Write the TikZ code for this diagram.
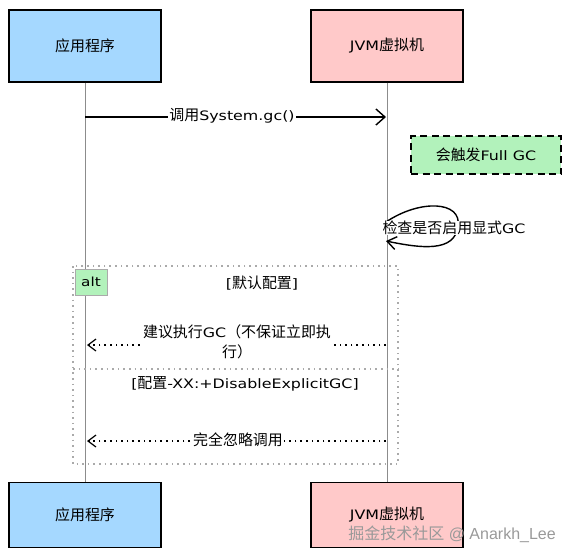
\documentclass[tikz,border=0pt]{standalone}
\usepackage{fontspec}
\setmainfont[FakeStretch=1.22]{DejaVu Sans}
\newfontfamily\cjk[Scale=1.15]{Noto Sans CJK SC}
\newfontfamily\wmfont{Liberation Sans}
\newfontfamily\wmcjk{Noto Sans CJK SC}
\usetikzlibrary{arrows.meta}
\definecolor{appblue}{HTML}{A5D8FF}
\definecolor{jvmpink}{HTML}{FFC9C9}
\definecolor{notegreen}{HTML}{B2F2BB}
\definecolor{framegrey}{HTML}{AAAAAA}
\tikzset{
  actor/.style={draw=black, line width=1.4pt, minimum width=152pt, minimum height=72pt, font=\fontsize{13}{15}\selectfont, inner sep=0pt},
  lifeline/.style={draw=black!45, line width=0.6pt},
  msg/.style={line width=1.4pt, -{Straight Barb[length=9pt,width=16pt,line width=1.4pt]}},
  reply/.style={line width=1.5pt, dash pattern=on 1.6pt off 4pt, -{Straight Barb[length=8pt,width=12pt,line width=1.2pt]}},
  lbl/.style={fill=white, inner sep=1pt, font=\fontsize{13}{20}\selectfont},
  frame/.style={draw=framegrey, line width=1.2pt, dash pattern=on 1.6pt off 4pt},
  guard/.style={font=\fontsize{13}{15}\selectfont, inner sep=1pt},
}
\begin{document}
\begin{tikzpicture}[x=1pt,y=-1pt]
\useasboundingbox (0,0) rectangle (571,558);
% actors
\node[actor, fill=appblue] (apptop) at (85,46) {\cjk 应用程序};
\node[actor, fill=jvmpink] (jvmtop) at (387,46) {JVM{\cjk 虚拟机}};
\node[actor, fill=appblue, minimum height=65pt] (appbot) at (85,515) {\cjk 应用程序};
\node[actor, fill=jvmpink, minimum height=65pt] (jvmbot) at (387,515) {JVM{\cjk 虚拟机}};
% lifelines
\draw[lifeline] (apptop.south) -- (appbot.north);
\draw[lifeline] (jvmtop.south) -- (jvmbot.north);
% message 1
\coordinate (m1s) at (85,117);
\coordinate (m1e) at (386,117);
\draw[msg] (m1s) -- (m1e);
\node[lbl] (m1l) at (232,116) {{\cjk 调用}System.gc()};
% note
\node[draw=black, line width=1.6pt, dash pattern=on 7pt off 4.5pt, fill=notegreen, minimum width=150pt, minimum height=38pt, font=\fontsize{13}{15}\selectfont] (note) at (486,155) {{\cjk 会触发}Full GC};
% self loop
\coordinate (s1) at (386,222);
\coordinate (s2) at (386,241);
\draw[line width=1.4pt, -{Straight Barb[length=9pt,width=13pt,line width=1.4pt]}] (s1) .. controls (420,199) and (462,201) .. (458,226) .. controls (455,253) and (420,248) .. (s2);
\node[lbl, inner sep=0pt] (selfl) at (454,228) {{\cjk 检查是否启用显式}GC};
% alt frame
\coordinate (fa) at (73,266);
\coordinate (fb) at (398,464);
\draw[frame] (fa) rectangle (fb);
\coordinate (dl) at (73,369);
\coordinate (dr) at (398,369);
\draw[frame] (dl) -- (dr);
\node[draw=framegrey, line width=1pt, fill=notegreen, minimum width=32pt, minimum height=26pt, font=\fontsize{12.5}{12}\selectfont, inner sep=0pt] (alt) at (91,282) {alt};
\node[guard] (g1) at (262,283) {[{\cjk 默认配置}]};
\node[guard] (g2) at (245,384) {[{\cjk 配置}-XX:+DisableExplicitGC]};
% message 2
\coordinate (m2s) at (386,345);
\coordinate (m2e) at (87,345);
\draw[reply] (m2s) -- (m2e);
\node[lbl, align=center] (m2l) at (237,342) {{\cjk 建议执行}GC{\cjk （不保证立即执}\\{\cjk 行）}};
% message 3
\coordinate (m3s) at (386,441);
\coordinate (m3e) at (87,441);
\draw[reply] (m3s) -- (m3e);
\node[lbl] (m3l) at (238,440) {\cjk 完全忽略调用};
% watermark
\node[text=black!40, font=\fontsize{16}{18}\wmfont, inner sep=0pt, anchor=east] (wm) at (556,534) {{\wmcjk 掘金技术社区} @ Anarkh\_Lee};
\end{tikzpicture}
\end{document}
